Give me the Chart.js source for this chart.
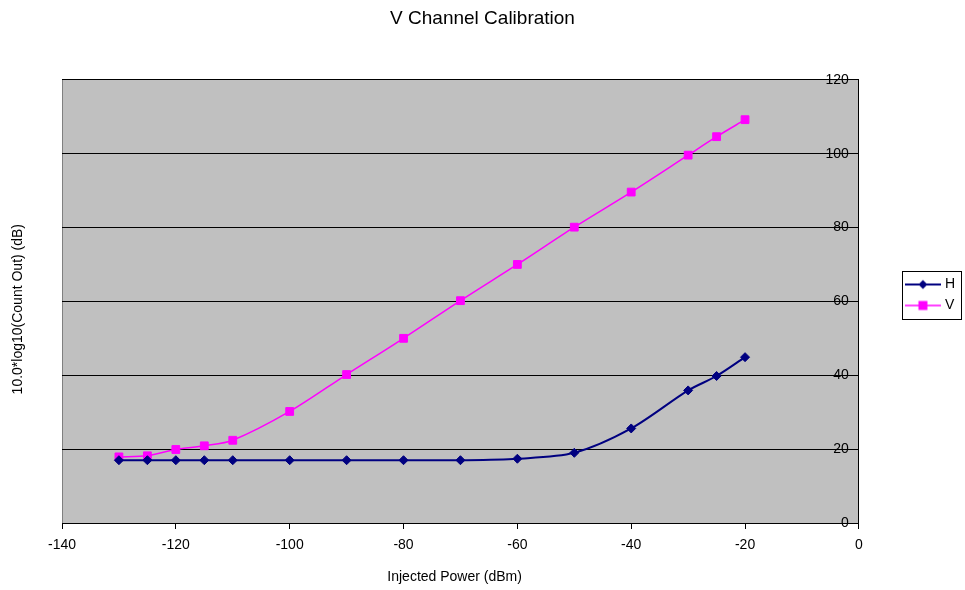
<!DOCTYPE html>
<html><head><meta charset="utf-8">
<script src="https://cdn.jsdelivr.net/npm/chart.js@4/dist/chart.umd.min.js"></script>
<style>html,body{margin:0;padding:0;background:#fff;} #wrap{width:965px;height:590px;position:relative;}</style>
</head><body><div id="wrap"><canvas id="c" width="965" height="590"></canvas></div>
<script>
// ---- data ----
const power = [-130, -125, -120, -115, -110, -100, -90, -80, -70, -60, -50, -40, -30, -25, -20];
const hValues = [17.0, 17.0, 17.0, 17.0, 17.0, 17.0, 17.0, 17.0, 17.0, 17.4, 19.0, 25.6, 35.9, 39.8, 44.9];
const vValues = [17.9, 18.2, 19.9, 20.9, 22.4, 30.2, 40.2, 50.0, 60.2, 70.0, 80.1, 89.6, 99.6, 104.6, 109.2];
const xTicks = [-140, -120, -100, -80, -60, -40, -20, 0];
const yTicks = [0, 20, 40, 60, 80, 100, 120];
const seriesNames = ['H', 'V'];
const chartTitle = 'V Channel Calibration';
const xTitle = 'Injected Power (dBm)';
const yTitle = '10.0*log10(Count Out) (dB)';

const FONT = "'Liberation Sans', Arial, sans-serif";
const H_COLOR = '#000080';
const V_COLOR = '#FF00FF';

function legendIcon(color, lw, style) {
  const c = document.createElement('canvas');
  c.width = 36; c.height = 12;
  const g = c.getContext('2d');
  g.strokeStyle = color; g.lineWidth = lw;
  g.beginPath(); g.moveTo(0, 6); g.lineTo(36, 6); g.stroke();
  g.fillStyle = color;
  if (style === 'diamond') {
    g.beginPath(); g.moveTo(18, 1.5); g.lineTo(22.5, 6); g.lineTo(18, 10.5); g.lineTo(13.5, 6); g.closePath(); g.fill();
  } else {
    g.fillRect(13.5, 1.5, 9, 9);
  }
  return c;
}
const icons = [legendIcon(H_COLOR, 2, 'diamond'), legendIcon(V_COLOR, 1.5, 'square')];

const bgPlugin = {
  id: 'bg',
  beforeDraw(chart) {
    const {ctx, chartArea: a} = chart;
    ctx.save();
    ctx.fillStyle = '#ffffff';
    ctx.fillRect(0, 0, chart.width, chart.height);
    ctx.fillStyle = '#C0C0C0';
    ctx.fillRect(a.left, a.top, a.right - a.left, a.bottom - a.top);
    ctx.strokeStyle = '#808080';
    ctx.lineWidth = 1;
    ctx.beginPath(); ctx.moveTo(a.left + 0.5, a.top); ctx.lineTo(a.left + 0.5, a.bottom); ctx.stroke();
    ctx.restore();
  },
  afterDraw(chart) {
    const lg = chart.legend;
    if (!lg || !lg.legendHitBoxes || !lg.legendHitBoxes.length) return;
    let x1 = Infinity, y1 = Infinity, x2 = -Infinity, y2 = -Infinity;
    lg.legendHitBoxes.forEach(b => {
      x1 = Math.min(x1, b.left); y1 = Math.min(y1, b.top);
      x2 = Math.max(x2, b.left + b.width); y2 = Math.max(y2, b.top + b.height);
    });
    const ctx = chart.ctx;
    ctx.save();
    ctx.strokeStyle = '#000'; ctx.lineWidth = 1;
    ctx.strokeRect(Math.round(x1 - 6) + 0.5, Math.round(y1 - 7) + 0.5, Math.round(x2 - x1 + 12), Math.round(y2 - y1 + 13));
    ctx.restore();
  }
};

new Chart(document.getElementById('c'), {
  type: 'line',
  data: {
    datasets: [
      {
        label: seriesNames[0],
        data: power.map((x, i) => ({x, y: hValues[i]})),
        borderColor: H_COLOR, backgroundColor: H_COLOR,
        borderWidth: 2, pointStyle: 'rectRot', pointRadius: 4.5, pointBorderWidth: 1,
        pointHoverRadius: 4.5, tension: 0.3, fill: false
      },
      {
        label: seriesNames[1],
        data: power.map((x, i) => ({x, y: vValues[i]})),
        borderColor: V_COLOR, backgroundColor: V_COLOR,
        borderWidth: 1.5, pointStyle: 'rect', pointRadius: 5.5, pointBorderWidth: 1,
        pointHoverRadius: 5.5, tension: 0.3, fill: false
      }
    ]
  },
  options: {
    responsive: false,
    animation: false,
    devicePixelRatio: 1,
    layout: {padding: 0},
    plugins: {
      title: {
        display: true, text: chartTitle, color: '#000',
        font: {family: FONT, size: 19, weight: 'normal'},
        padding: {top: 7, bottom: 50}
      },
      legend: {
        position: 'right', fullSize: true, align: 'center',
        labels: {
          color: '#000', font: {family: FONT, size: 14},
          usePointStyle: true, pointStyleWidth: 30, padding: 7,
          generateLabels(chart) {
            const items = Chart.defaults.plugins.legend.labels.generateLabels(chart);
            items.forEach((it, i) => { it.pointStyle = icons[i]; });
            return items;
          }
        }
      },
      tooltip: {enabled: false}
    },
    scales: {
      x: {
        type: 'linear', position: 'bottom', min: -140, max: 0,
        afterBuildTicks: s => { s.ticks = xTicks.map(v => ({value: v})); },
        afterFit: s => { s.height = 67; },
        border: {display: true, color: '#000', width: 1},
        grid: {drawOnChartArea: false, drawTicks: true, tickLength: 6, color: '#000'},
        ticks: {color: '#000', font: {family: FONT, size: 14}, padding: 8, maxRotation: 0},
        title: {display: true, text: xTitle + '   ', color: '#000', font: {family: FONT, size: 14}, padding: {top: 0, bottom: 4}}
      },
      y: {
        type: 'linear', position: 'right', min: 0, max: 120,
        afterBuildTicks: s => { s.ticks = yTicks.map(v => ({value: v})); },
        afterFit: s => { s.width = 42; },
        border: {display: true, color: '#000', width: 1},
        grid: {color: '#000', lineWidth: 1, drawTicks: false},
        ticks: {color: '#000', font: {family: FONT, size: 14}, mirror: true, padding: -10}
      },
      yTitle: {
        type: 'linear', axis: 'y', position: 'left', display: true,
        afterFit: s => { s.width = 62; },
        grid: {display: false}, border: {display: false},
        ticks: {display: false},
        title: {display: true, text: yTitle + '    ', color: '#000', font: {family: FONT, size: 14}, padding: {top: 10, bottom: 0}}
      }
    }
  },
  plugins: [bgPlugin]
});
</script>
</body></html>
